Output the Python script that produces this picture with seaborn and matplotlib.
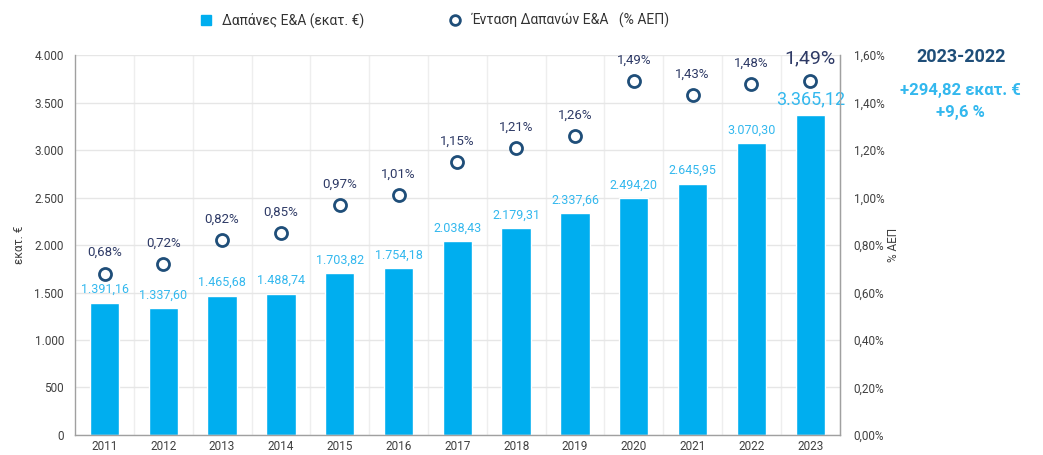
import matplotlib
matplotlib.use("Agg")
import matplotlib.pyplot as plt
import pandas as pd
import seaborn as sns
from matplotlib.lines import Line2D
from matplotlib.ticker import FuncFormatter, MultipleLocator

years = ['2011', '2012', '2013', '2014', '2015', '2016', '2017',
         '2018', '2019', '2020', '2021', '2022', '2023']
spending = [1391.16, 1337.60, 1465.68, 1488.74, 1703.82, 1754.18, 2038.43,
            2179.31, 2337.66, 2494.20, 2645.95, 3070.30, 3365.12]
intensity = [0.68, 0.72, 0.82, 0.85, 0.97, 1.01, 1.15,
             1.21, 1.26, 1.49, 1.43, 1.48, 1.49]

BAR = '#00AEEF'
BAR_TXT = '#33B8EE'
DOT = '#1F4E79'
PCT_TXT = '#2E3A66'
AX_TXT = '#404040'


def gr_num(v, dec=2):
    s = f'{v:,.{dec}f}'
    return s.replace(',', 'X').replace('.', ',').replace('X', '.')


sns.set_style('white')
plt.rcParams['font.family'] = ['Roboto', 'DejaVu Sans']

df = pd.DataFrame({'year': years, 'spending': spending, 'intensity': intensity})

fig = plt.figure(figsize=(10.43, 4.55), dpi=100)
ax = fig.add_axes([0.072, 0.044, 0.733, 0.835])

sns.barplot(data=df, x='year', y='spending', color=BAR, width=0.5,
            saturation=1, ax=ax, zorder=2)
ax.set_ylim(0, 4000)
ax.set_xlim(-0.5, len(years) - 0.5)
ax.yaxis.set_major_locator(MultipleLocator(500))
ax.yaxis.set_major_formatter(FuncFormatter(lambda v, p: gr_num(v, 0)))
ax.set_xticks(range(len(years)), minor=False)
ax.set_xticks([i + 0.5 for i in range(len(years) - 1)], minor=True)
ax.grid(True, axis='y', which='major', color='#E6E6E6', lw=1, zorder=0)
ax.grid(True, axis='x', which='minor', color='#EEEEEE', lw=1, zorder=0)
ax.set_axisbelow(True)
ax.tick_params(axis='both', which='both', length=0, labelsize=8.5, colors=AX_TXT)
ax.tick_params(axis='y', pad=8)
ax.set_xlabel('')
ax.set_ylabel('εκατ. €', fontsize=8.5, color=AX_TXT, labelpad=6)
ax.spines['top'].set_visible(False)
for s in ['left', 'bottom', 'right']:
    ax.spines[s].set_color('#A0A0A0')
    ax.spines[s].set_linewidth(1)

for i, v in enumerate(spending):
    last = i == len(spending) - 1
    ax.text(i, v + 70, gr_num(v), ha='center', va='bottom',
            fontsize=13 if last else 9, color=BAR_TXT, zorder=4)

ax2 = ax.twinx()
sns.scatterplot(data=df, x='year', y='intensity', ax=ax2, marker='o', s=75,
                facecolor='white', edgecolor=DOT, linewidth=2.0, zorder=5)
ax2.set_ylim(0, 1.6)
ax2.yaxis.set_major_locator(MultipleLocator(0.2))
ax2.yaxis.set_major_formatter(FuncFormatter(lambda v, p: f'{v:.2f}%'.replace('.', ',')))
ax2.tick_params(axis='y', length=0, labelsize=8.5, colors=AX_TXT, pad=10)
ax2.set_ylabel('% ΑΕΠ', fontsize=8.5, color=AX_TXT, labelpad=2)
ax2.set_xlabel('')
for s in ['top', 'left', 'bottom']:
    ax2.spines[s].set_visible(False)
ax2.spines['right'].set_color('#A0A0A0')

for i, v in enumerate(intensity):
    last = i == len(intensity) - 1
    ax2.text(i, v + 0.06, f'{v:.2f}%'.replace('.', ','), ha='center', va='bottom',
             fontsize=14 if last else 9.5, color=PCT_TXT, zorder=6)

handles = [
    Line2D([], [], marker='s', ls='', color=BAR, markersize=7),
    Line2D([], [], marker='o', ls='', markerfacecolor='white',
           markeredgecolor=DOT, markeredgewidth=2, markersize=7),
]
fig.legend(handles, ['Δαπάνες Ε&Α (εκατ. €)', 'Ένταση Δαπανών Ε&Α   (% ΑΕΠ)'],
           loc='upper left', bbox_to_anchor=(0.172, 1.0), ncol=2, frameon=False,
           fontsize=10, handletextpad=0.2, columnspacing=5.5, labelcolor='#333333')

fig.text(0.921, 0.875, '2023-2022', ha='center', va='center', fontsize=13,
         fontweight='bold', color='#1F4E79')
fig.text(0.921, 0.80, '+294,82 εκατ. €', ha='center', va='center', fontsize=12,
         fontweight='bold', color=BAR_TXT)
fig.text(0.921, 0.752, '+9,6 %', ha='center', va='center', fontsize=12,
         fontweight='bold', color=BAR_TXT)

fig.savefig('out.png', dpi=100)
